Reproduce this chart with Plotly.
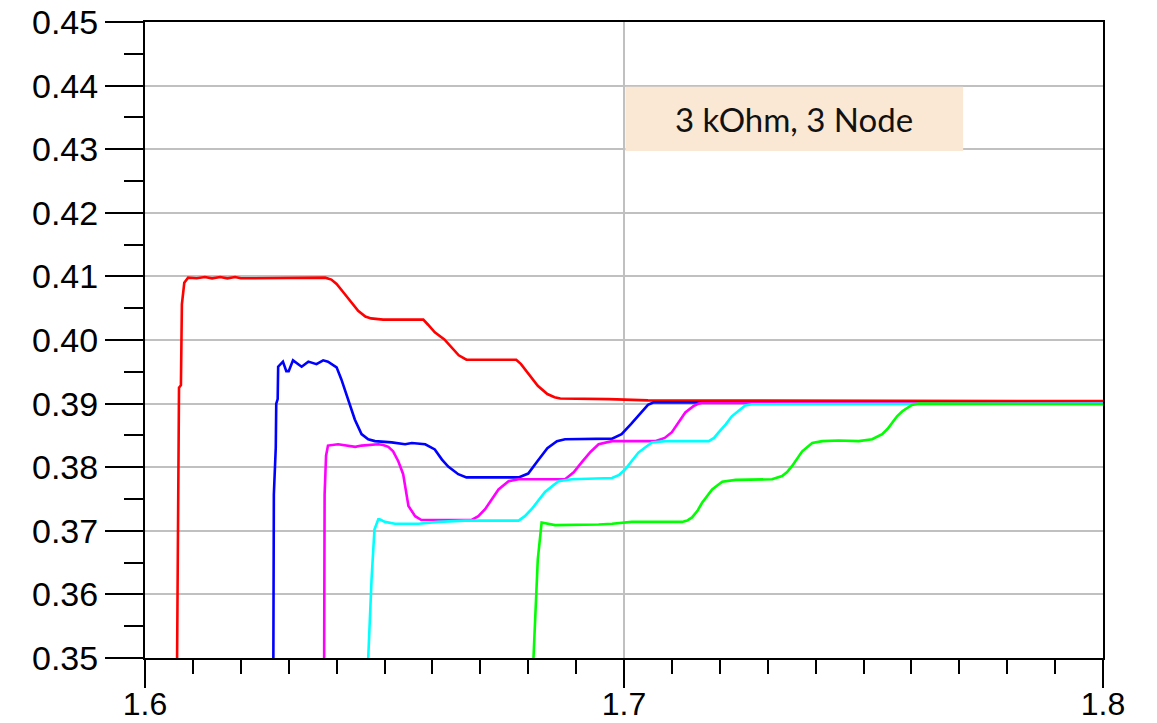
import plotly.graph_objects as go

# Sweep traces: x = input level, y = node output (V)
red_x = [1.6067, 1.6069, 1.6071, 1.6075, 1.6077, 1.6082, 1.6090, 1.6108, 1.6125, 1.6140, 1.6157, 1.6172,
         1.6188, 1.6200, 1.6376, 1.6389, 1.6400, 1.6414, 1.6430, 1.6445, 1.6460, 1.6472, 1.6497, 1.6581,
         1.6591, 1.6605, 1.6625, 1.6640, 1.6655, 1.6671, 1.6775, 1.6785, 1.6800, 1.6820, 1.6840, 1.6855,
         1.6867, 1.6968, 1.7050, 1.7600, 1.8000]
red_y = [0.3500, 0.3655, 0.3925, 0.3929, 0.4056, 0.4090, 0.4098, 0.4097, 0.4099, 0.4097, 0.4099, 0.4097,
         0.4099, 0.4097, 0.4098, 0.4095, 0.4088, 0.4075, 0.4060, 0.4046, 0.4037, 0.4034, 0.4032, 0.4032,
         0.4024, 0.4012, 0.4001, 0.3988, 0.3976, 0.3969, 0.3969, 0.3962, 0.3948, 0.3928, 0.3915, 0.3910,
         0.3908, 0.3907, 0.3905, 0.3905, 0.3904]

blue_x = [1.6268, 1.6269, 1.6273, 1.6274, 1.6277, 1.6278, 1.6288, 1.6295, 1.6300, 1.6309, 1.6327, 1.6341,
          1.6358, 1.6372, 1.6382, 1.6400, 1.6410, 1.6424, 1.6438, 1.6452, 1.6466, 1.6480, 1.6515, 1.6543,
          1.6557, 1.6585, 1.6605, 1.6620, 1.6633, 1.6654, 1.6671, 1.6780, 1.6800, 1.6820, 1.6840, 1.6860,
          1.6877, 1.6975, 1.6995, 1.7015, 1.7035, 1.7050, 1.7062, 1.7400, 1.8000]
blue_y = [0.3500, 0.3757, 0.3831, 0.3900, 0.3907, 0.3958, 0.3966, 0.3951, 0.3951, 0.3968, 0.3958, 0.3966,
          0.3962, 0.3968, 0.3966, 0.3957, 0.3938, 0.3907, 0.3875, 0.3852, 0.3844, 0.3841, 0.3839, 0.3836,
          0.3838, 0.3836, 0.3828, 0.3812, 0.3801, 0.3789, 0.3784, 0.3784, 0.3790, 0.3810, 0.3830, 0.3841,
          0.3844, 0.3845, 0.3852, 0.3868, 0.3886, 0.3898, 0.3902, 0.3902, 0.3901]

magenta_x = [1.6374, 1.6375, 1.6378, 1.6382, 1.6403, 1.6424, 1.6439, 1.6452, 1.6466, 1.6487, 1.6497, 1.6508,
             1.6518, 1.6529, 1.6539, 1.6550, 1.6564, 1.6577, 1.6682, 1.6696, 1.6710, 1.6724, 1.6738, 1.6759,
             1.6780, 1.6877, 1.6895, 1.6912, 1.6930, 1.6947, 1.6975, 1.7065, 1.7085, 1.7100, 1.7115, 1.7128,
             1.7145, 1.7156, 1.7163, 1.8000]
magenta_y = [0.3500, 0.3757, 0.3818, 0.3834, 0.3836, 0.3834, 0.3832, 0.3834, 0.3835, 0.3836, 0.3835, 0.3832,
             0.3825, 0.3809, 0.3789, 0.3739, 0.3723, 0.3717, 0.3717, 0.3723, 0.3734, 0.3750, 0.3765, 0.3778,
             0.3781, 0.3781, 0.3792, 0.3808, 0.3824, 0.3836, 0.3841, 0.3841, 0.3846, 0.3855, 0.3872, 0.3886,
             0.3896, 0.3900, 0.3901, 0.3901]

cyan_x = [1.6466, 1.6473, 1.6479, 1.6487, 1.6490, 1.6501, 1.6522, 1.6571, 1.6612, 1.6668, 1.6780, 1.6793,
          1.6807, 1.6821, 1.6835, 1.6863, 1.6891, 1.6975, 1.6990, 1.7003, 1.7016, 1.7030, 1.7058, 1.7086,
          1.7177, 1.7188, 1.7198, 1.7212, 1.7225, 1.7253, 1.7267, 1.8000]
cyan_y = [0.3500, 0.3624, 0.3702, 0.3718, 0.3718, 0.3714, 0.3711, 0.3711, 0.3714, 0.3716, 0.3716, 0.3723,
          0.3734, 0.3748, 0.3761, 0.3778, 0.3781, 0.3783, 0.3788, 0.3797, 0.3810, 0.3823, 0.3839, 0.3841,
          0.3841, 0.3846, 0.3855, 0.3867, 0.3880, 0.3897, 0.3899, 0.3900]

green_x = [1.6811, 1.6816, 1.6820, 1.6828, 1.6839, 1.6856, 1.6947, 1.6975, 1.7016, 1.7121, 1.7132, 1.7142,
           1.7153, 1.7163, 1.7184, 1.7205, 1.7233, 1.7309, 1.7330, 1.7340, 1.7351, 1.7362, 1.7372, 1.7393,
           1.7414, 1.7448, 1.7490, 1.7518, 1.7539, 1.7550, 1.7560, 1.7570, 1.7581, 1.7601, 1.7615, 1.8000]
green_y = [0.3500, 0.3582, 0.3655, 0.3713, 0.3711, 0.3709, 0.3710, 0.3711, 0.3714, 0.3714, 0.3716, 0.3721,
           0.3731, 0.3744, 0.3765, 0.3777, 0.3780, 0.3781, 0.3786, 0.3792, 0.3802, 0.3814, 0.3825, 0.3838,
           0.3841, 0.3842, 0.3841, 0.3844, 0.3852, 0.3860, 0.3870, 0.3880, 0.3888, 0.3898, 0.3900, 0.3899]

x_ticks = [1.6, 1.7, 1.8]
x_tick_text = ["1.6", "1.7", "1.8"]
label_text = "3 kOhm, 3 Node"

series = [
    (red_x, red_y, "#ff0000"),
    (blue_x, blue_y, "#0000ff"),
    (magenta_x, magenta_y, "#ff00ff"),
    (cyan_x, cyan_y, "#00ffff"),
    (green_x, green_y, "#00ff00"),
]

fig = go.Figure()
for xs, ys, col in series:
    fig.add_trace(go.Scatter(x=xs, y=ys, mode="lines",
                             line=dict(color=col, width=2.6),
                             showlegend=False, hoverinfo="skip"))

axis_font = dict(family="Liberation Sans, Arial, sans-serif", size=34, color="black")

fig.update_xaxes(
    range=[1.6, 1.8], tickvals=x_ticks, ticktext=x_tick_text,
    ticks="outside", ticklen=28, tickwidth=2, tickcolor="black",
    showline=True, linecolor="black", linewidth=2, mirror=True,
    showgrid=True, gridcolor="#c0c0c0", gridwidth=2, zeroline=False,
    tickfont=dict(family="Liberation Sans, Arial, sans-serif", size=32, color="black"),
    automargin=False, ticklabelstandoff=-11,
    minor=dict(dtick=0.01, tick0=1.6, ticks="outside", ticklen=14, tickwidth=2,
               tickcolor="black", showgrid=False),
)
fig.update_yaxes(
    range=[0.35, 0.45], tick0=0.35, dtick=0.01, tickformat=".2f",
    ticks="outside", ticklen=38, tickwidth=2, tickcolor="black",
    showline=True, linecolor="black", linewidth=2, mirror=True,
    showgrid=True, gridcolor="#c0c0c0", gridwidth=2, zeroline=False,
    tickfont=axis_font, automargin=False,
    minor=dict(dtick=0.005, tick0=0.35, ticks="outside", ticklen=19, tickwidth=2,
               tickcolor="black", showgrid=False),
)

# Label box
fig.add_shape(type="rect", xref="x", yref="y", x0=1.7003, x1=1.7708, y0=0.4297, y1=0.4398,
              fillcolor="#fae8d4", line=dict(width=0), layer="above")
fig.add_annotation(x=1.7355, y=0.4347, xref="x", yref="y", text=label_text, showarrow=False,
                   font=dict(family="Lato, Noto Sans, sans-serif", size=33, color="#111111"))

fig.update_layout(
    width=1157, height=723,
    margin=dict(l=145, r=54, t=22, b=65),
    paper_bgcolor="white", plot_bgcolor="white",
)

fig.write_html("out.html")
